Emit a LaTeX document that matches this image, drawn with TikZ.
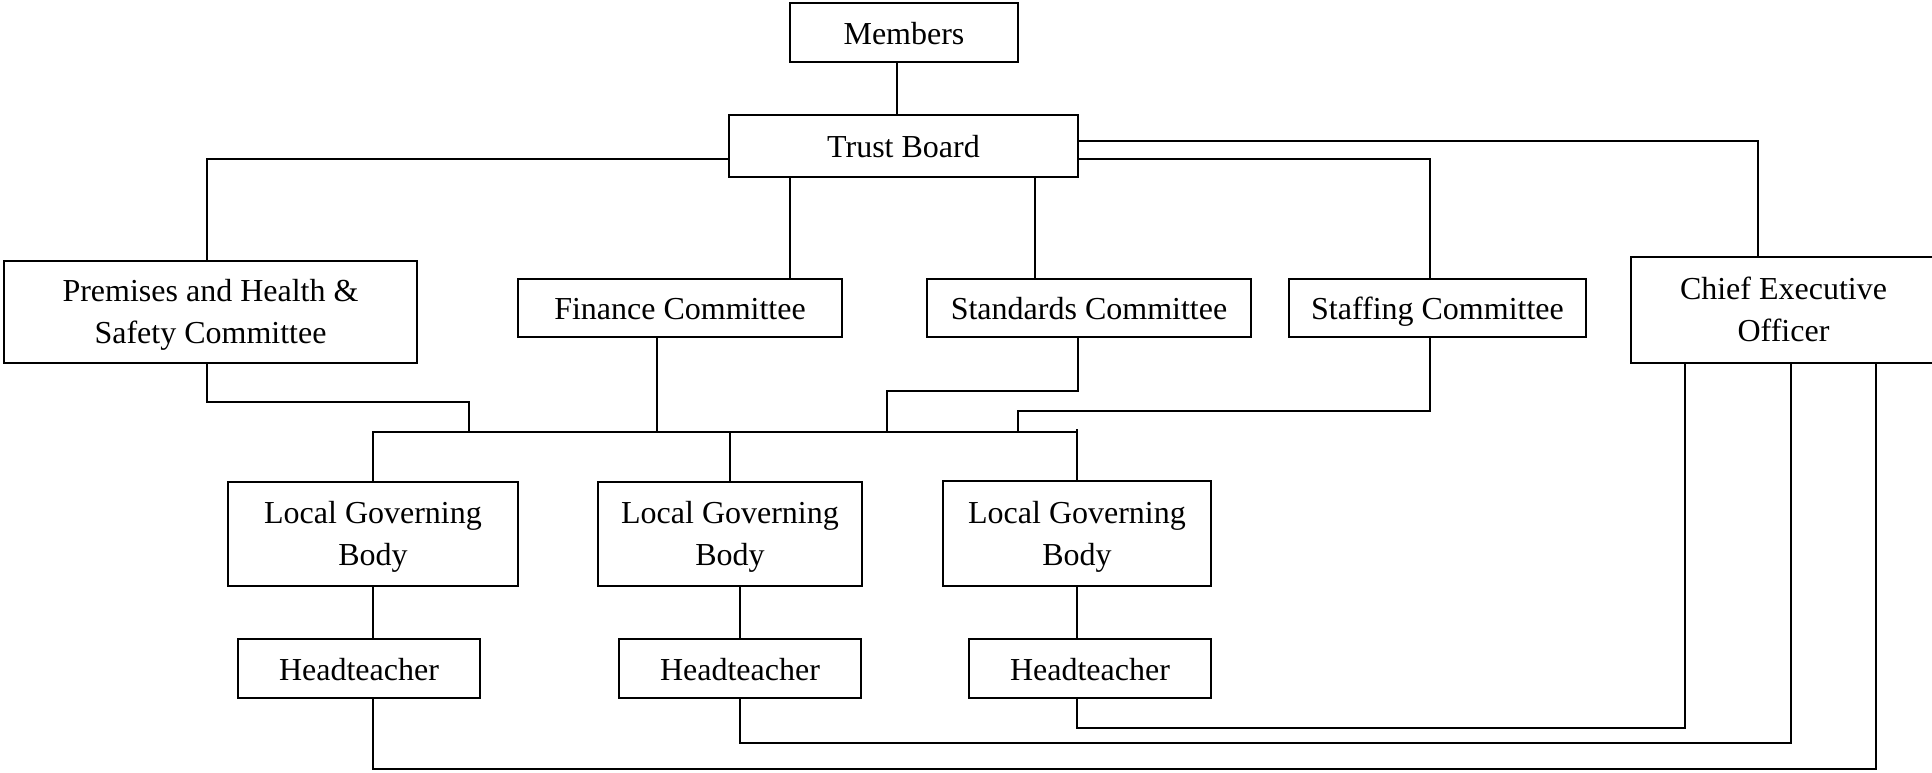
\documentclass[tikz,border=0pt]{standalone}
\usepackage{fontspec}
\setmainfont{Liberation Serif}

\begin{document}
\begin{tikzpicture}%
        [x=0.5pt,
        y=-0.5pt,
        unit/.style={draw, line width=0.7pt, inner sep=0pt, align=center,
                     font=\fontsize{16}{21}\selectfont},
        oneline/.style={unit, text height=13pt, text depth=1.4pt},
        twoline/.style={unit, text height=33pt, text depth=1.4pt},
        link/.style={line width=0.6pt}]

    \useasboundingbox (0,0) rectangle (1932,772);
    %%
    %% Drawing the boxes
    %%
    \node[oneline, minimum width=114pt, minimum height=29.5pt] (members) at (904,32.5) {Members};
    \node[oneline, minimum width=174.5pt, minimum height=31pt] (board) at (903.5,146) {Trust Board};
    \node[twoline, minimum width=206.5pt, minimum height=51pt] (premises) at (210.5,312) {Premises and Health \&\\Safety Committee};
    \node[oneline, minimum width=162pt, minimum height=29pt] (finance) at (680,308) {Finance Committee};
    \node[oneline, minimum width=162pt, minimum height=29pt] (standards) at (1089,308) {Standards Committee};
    \node[oneline, minimum width=148.5pt, minimum height=29pt] (staffing) at (1437.5,308) {Staffing Committee};
    \node[twoline, minimum width=152.5pt, minimum height=53pt] (ceo) at (1783.5,310) {Chief Executive\\Officer};
    \node[twoline, minimum width=145pt, minimum height=52pt] (lgb1) at (373,534) {Local Governing\\Body};
    \node[twoline, minimum width=132pt, minimum height=52pt] (lgb2) at (730,534) {Local Governing\\Body};
    \node[twoline, minimum width=134pt, minimum height=52.5pt] (lgb3) at (1077,533.5) {Local Governing\\Body};
    \node[oneline, minimum width=121pt, minimum height=29.5pt] (ht1) at (359,668.5) {Headteacher};
    \node[oneline, minimum width=121pt, minimum height=29.5pt] (ht2) at (740,668.5) {Headteacher};
    \node[oneline, minimum width=121pt, minimum height=29.5pt] (ht3) at (1090,668.5) {Headteacher};
    %%
    %% Branch points
    %%
    \coordinate (mx) at (897,0);
    \coordinate (px) at (207,159);
    \coordinate (fx) at (790,0);
    \coordinate (sx) at (1035,0);
    \coordinate (stx) at (1430,159);
    \coordinate (cx) at (1758,141);
    \coordinate (busw) at (372,432);
    \coordinate (buse) at (1078,432);
    \coordinate (b1) at (469,402);
    \coordinate (b2) at (657,432);
    \coordinate (b3) at (887,391);
    \coordinate (b4) at (1018,411);
    \coordinate (k1) at (1876,769);
    \coordinate (k2) at (1791,743);
    \coordinate (k3) at (1685,728);
    %%
    %% Members and board
    %%
    \draw[link] (members.south -| mx) -- (board.north -| mx);
    \draw[link] (board.west |- px) -| (premises.north -| px);
    \draw[link] (board.south -| fx) -- (finance.north -| fx);
    \draw[link] (board.south -| sx) -- (standards.north -| sx);
    \draw[link] (board.east |- stx) -| (staffing.north -| stx);
    \draw[link] (board.east |- cx) -| (ceo.north -| cx);
    %%
    %% Committees down to the schools
    %%
    \draw[link] (busw) -- (buse);
    \draw[link] (premises.south -| px) |- (b1) -- (b1 |- busw);
    \draw[link] (finance.south -| b2) -- (b2);
    \draw[link] (standards.south -| buse) |- (b3) -- (b3 |- busw);
    \draw[link] (staffing.south -| stx) |- (b4) -- (b4 |- busw);
    \draw[link] (lgb1.north |- busw) -- (lgb1.north);
    \draw[link] (lgb2.north |- busw) -- (lgb2.north);
    \draw[link] ([yshift=1.5pt]lgb3.north |- buse) -- (lgb3.north);
    \draw[link] (lgb1.south) -- (lgb1.south |- ht1.north);
    \draw[link] (ht2.north |- lgb2.south) -- (ht2.north);
    \draw[link] (lgb3.south) -- (lgb3.south |- ht3.north);
    %%
    %% Headteachers up to the chief executive
    %%
    \draw[link] (ht1.south -| lgb1.south) |- (k1) -- (ceo.south -| k1);
    \draw[link] (ht2.south) |- (k2) -- (ceo.south -| k2);
    \draw[link] (ht3.south -| lgb3.south) |- (k3) -- (ceo.south -| k3);
\end{tikzpicture}
\end{document}
